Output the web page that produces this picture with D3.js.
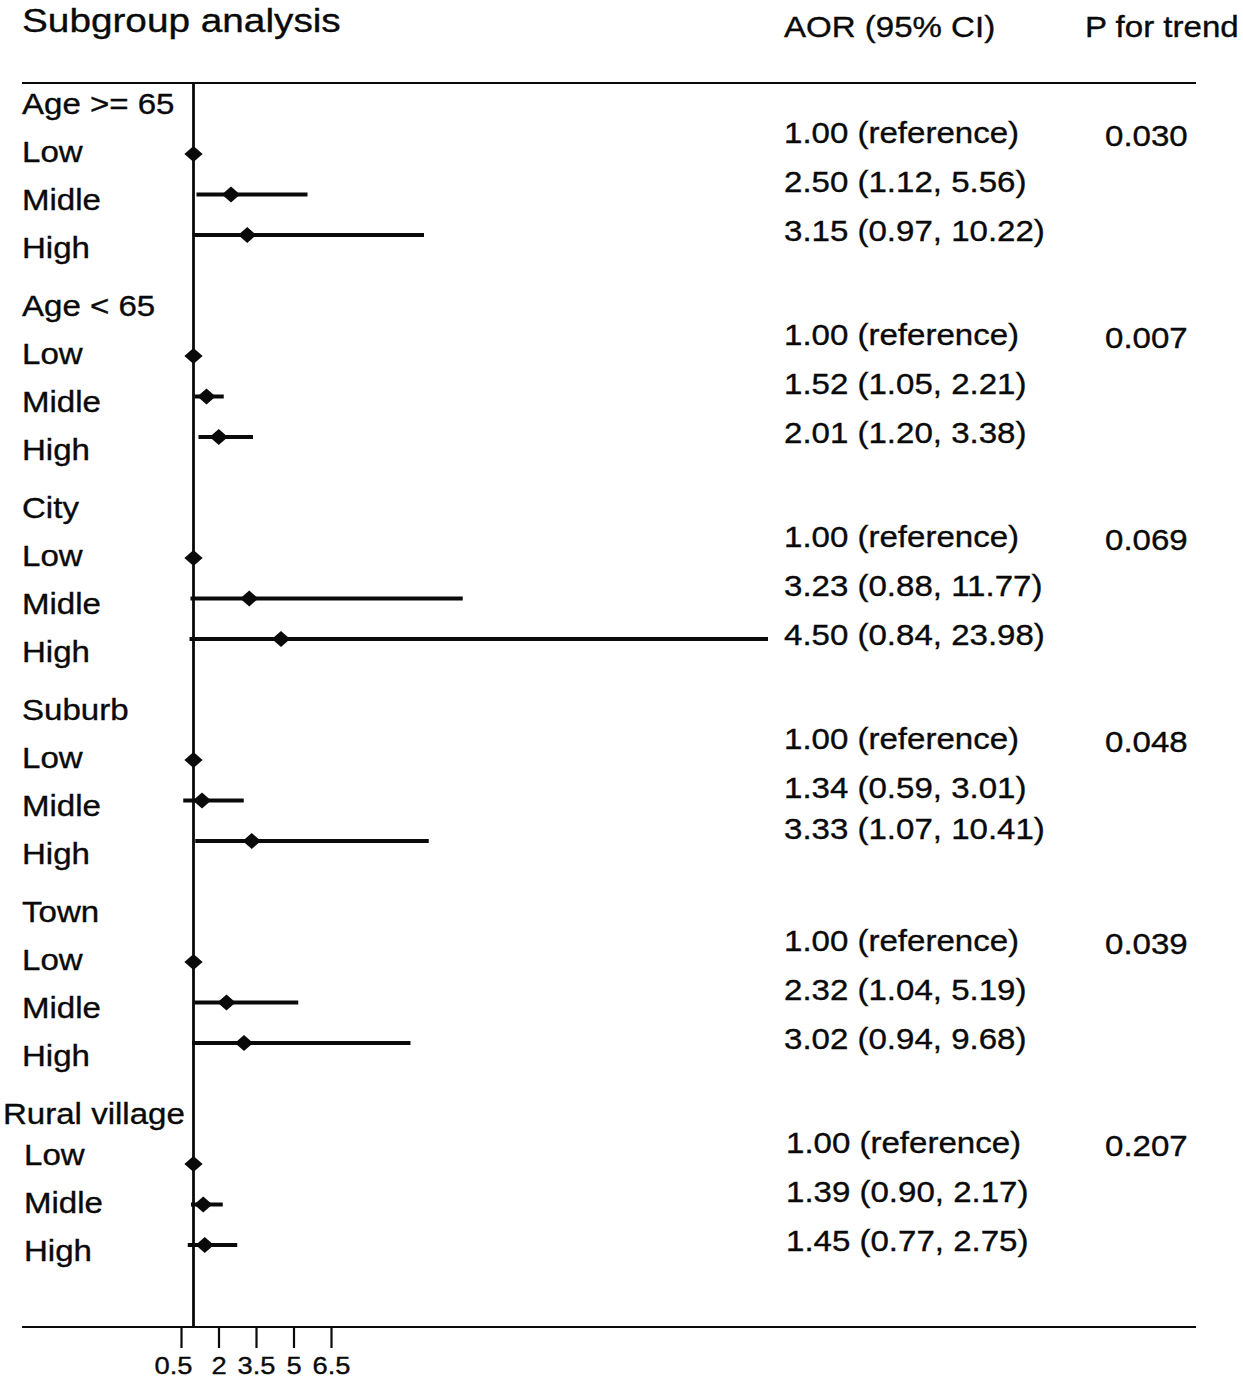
<!DOCTYPE html>
<html>
<head>
<meta charset="utf-8">
<script src="https://cdn.jsdelivr.net/npm/d3@7/dist/d3.min.js"></script>
<style>
  html, body { margin: 0; padding: 0; background: #fff; }
  svg { display: block; }
  text { font-family: "Liberation Sans", Arial, Helvetica, sans-serif; fill: #0a0a0a; stroke: #0a0a0a; stroke-width: 0.35px; }
</style>
</head>
<body>
<svg id="chart" width="1243" height="1382"></svg>
<script>
// ---------------- data ----------------
const groups = ["Age >= 65", "Age < 65", "City", "Suburb", "Town", "Rural village"];
const levels = ["Low", "Midle", "High"];
const aor   = [[1.00, 2.50, 3.15], [1.00, 1.52, 2.01], [1.00, 3.23, 4.50], [1.00, 1.34, 3.33], [1.00, 2.32, 3.02], [1.00, 1.39, 1.45]];
const lower = [[null, 1.12, 0.97], [null, 1.05, 1.20], [null, 0.88, 0.84], [null, 0.59, 1.07], [null, 1.04, 0.94], [null, 0.90, 0.77]];
const upper = [[null, 5.56, 10.22], [null, 2.21, 3.38], [null, 11.77, 23.98], [null, 3.01, 10.41], [null, 5.19, 9.68], [null, 2.17, 2.75]];
const pTrend = ["0.030", "0.007", "0.069", "0.048", "0.039", "0.207"];
const tickValues = [0.5, 2, 3.5, 5, 6.5];
const titleText = "Subgroup analysis";
const aorHeader = "AOR (95% CI)";
const pHeader = "P for trend";

// ---------------- layout ----------------
const SX = 1.14;           // horizontal stretch of the lettering
const svg = d3.select("#chart");
const x = d3.scaleLinear().domain([0.5, 6.5]).range([181, 331]);
const gY = d3.scaleLinear().domain([0, groups.length - 1]).range([0, 1010]);
const markerStep = d3.scaleLinear().domain([0, 2]).range([0, 81]);
const valueStep = d3.scaleLinear().domain([0, 2]).range([0, 98]);
const labelStep = d3.scaleLinear().domain([0, 3]).range([0, 144]);

function txt(str, tx, ty, size, anchor) {
  return svg.append("text")
    .attr("transform", `translate(${tx},${ty}) scale(${SX},1)`)
    .attr("font-size", size)
    .attr("text-anchor", anchor || "start")
    .text(str);
}

// headers
txt(titleText, 22, 32, 34);
txt(aorHeader, 784, 37, 29);
txt(pHeader, 1085, 37, 29);

// frame lines
const yTop = 83, yBottom = 1327;
svg.append("line").attr("x1", 22).attr("x2", 1196).attr("y1", yTop).attr("y2", yTop)
  .attr("stroke", "#0a0a0a").attr("stroke-width", 2.2);
svg.append("line").attr("x1", 22).attr("x2", 1196).attr("y1", yBottom).attr("y2", yBottom)
  .attr("stroke", "#0a0a0a").attr("stroke-width", 2.2);
svg.append("line").attr("x1", x(1)).attr("x2", x(1)).attr("y1", yTop).attr("y2", yBottom)
  .attr("stroke", "#0a0a0a").attr("stroke-width", 2.8);

// x axis (ticks only, baseline drawn above)
const axis = d3.axisBottom(x).tickValues(tickValues).tickSize(20).tickPadding(6)
  .tickFormat(d => d3.format("")(d));
const ax = svg.append("g").attr("transform", `translate(0,${yBottom + 1})`).call(axis);
ax.select(".domain").remove();
ax.selectAll(".tick line").attr("stroke", "#0a0a0a").attr("stroke-width", 2.2);
ax.selectAll(".tick text")
  .attr("font-size", 24)
  .attr("fill", "#0a0a0a")
  .attr("dy", null)
  .attr("y", 0)
  .attr("transform", (d, i) => `translate(${i === 0 ? -8 : 0},46) scale(${SX},1)`);

// rows
const diamond = d3.symbol().type(d3.symbolSquare).size(130);
groups.forEach((gName, g) => {
  const rural = g === groups.length - 1;
  // group header + level labels
  txt(gName, rural ? 3 : 22, 114 + gY(g), 29);
  levels.forEach((lv, k) => {
    const ly = rural ? 1165 + labelStep(k) : 114 + gY(g) + labelStep(k + 1);
    txt(lv, rural ? 24 : 22, ly, 29);

    // marker + CI
    const my = 154 + gY(g) + markerStep(k);
    if (lower[g][k] != null) {
      svg.append("line")
        .attr("x1", x(lower[g][k])).attr("x2", x(upper[g][k]))
        .attr("y1", my).attr("y2", my)
        .attr("stroke", "#0a0a0a").attr("stroke-width", 4);
    }
    svg.append("path")
      .attr("d", diamond)
      .attr("fill", "#0a0a0a")
      .attr("transform", `translate(${x(aor[g][k])},${my}) scale(1.13,1) rotate(45)`);

    // AOR text
    const label = lower[g][k] == null
      ? `${aor[g][k].toFixed(2)} (reference)`
      : `${aor[g][k].toFixed(2)} (${lower[g][k].toFixed(2)}, ${upper[g][k].toFixed(2)})`;
    const adj = (g === 3 && k === 2) ? -8 : 0;
    txt(label, rural ? 786 : 784, 143 + gY(g) + valueStep(k) + adj, 29);
  });
  // P for trend
  txt(pTrend[g], 1105, 146 + gY(g), 29);
});
</script>
</body>
</html>
